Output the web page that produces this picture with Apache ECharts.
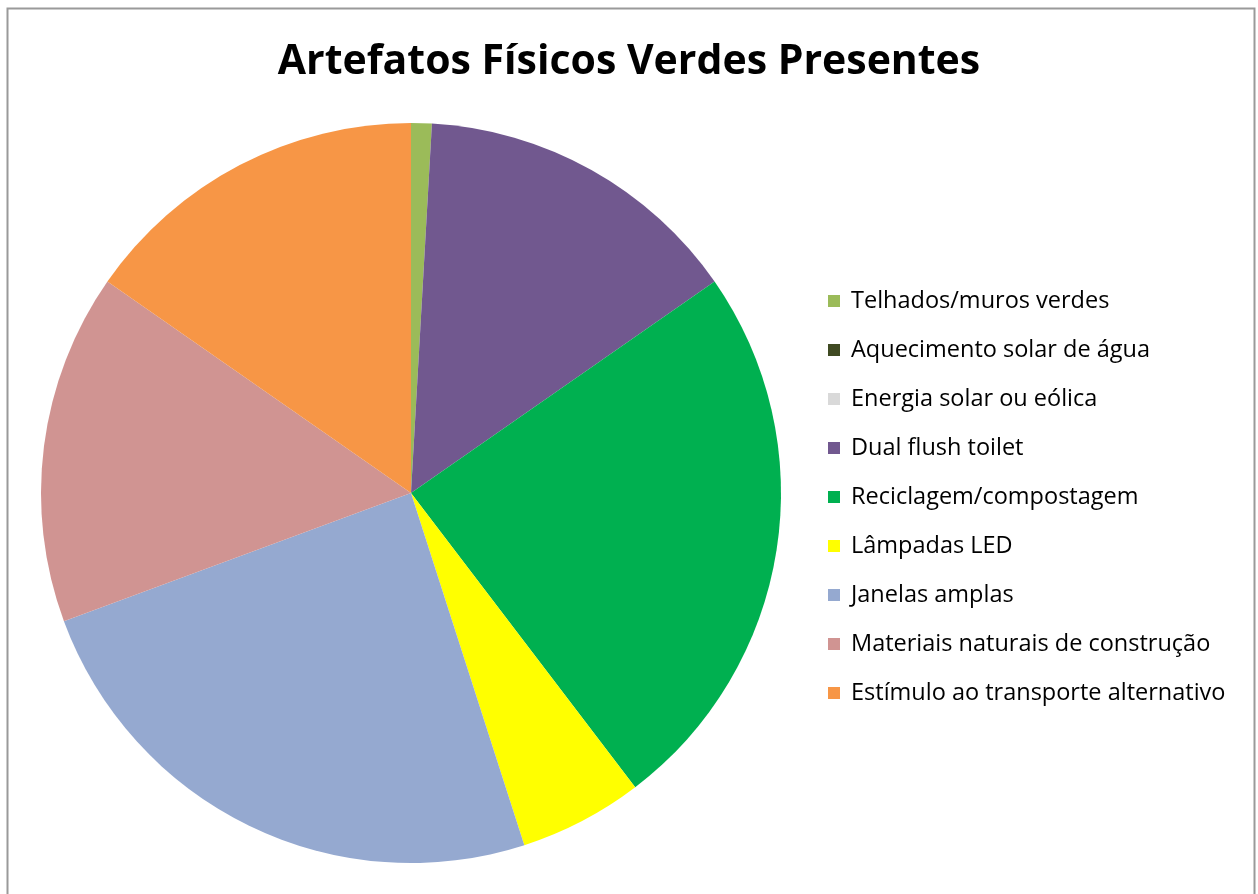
<!DOCTYPE html>
<html>
<head>
<meta charset="utf-8">
<script src="https://cdn.jsdelivr.net/npm/echarts@6/dist/echarts.min.js"></script>
<style>
html,body{margin:0;padding:0;background:#fff;}
#chart{width:1258px;height:894px;}
</style>
</head>
<body>
<div id="chart"></div>
<script>
const categories = [
  'Telhados/muros verdes',
  'Aquecimento solar de água',
  'Energia solar ou eólica',
  'Dual flush toilet',
  'Reciclagem/compostagem',
  'Lâmpadas LED',
  'Janelas amplas',
  'Materiais naturais de construção',
  'Estímulo ao transporte alternativo'
];
const values = [1, 0, 0, 16, 27, 6, 27, 17, 17];
const colors = ['#9BBB59', '#3F4A22', '#D9D9D9', '#71588F', '#00B050', '#FFFF00', '#95A9D0', '#D09492', '#F79646'];
const titleText = 'Artefatos Físicos Verdes Presentes';

const chart = echarts.init(document.getElementById('chart'));
chart.setOption({
  animation: false,
  backgroundColor: '#fff',
  title: {
    text: titleText,
    left: 'center',
    top: 37,
    textStyle: { fontFamily: 'Open Sans', fontWeight: 'bold', fontSize: 41, color: '#000' }
  },
  graphic: [{
    type: 'rect',
    shape: { x: 7.5, y: 8.5, width: 1247, height: 900 },
    style: { fill: 'none', stroke: '#9a9a9a', lineWidth: 2 },
    z: 100
  }],
  legend: {
    orient: 'vertical',
    left: 828,
    top: 289,
    padding: 0,
    itemWidth: 12,
    itemHeight: 12,
    itemGap: 25,
    icon: 'rect',
    textStyle: { fontFamily: 'Open Sans', fontSize: 23.5, lineHeight: 24, color: '#000', padding: [0, 0, 0, 6] },
    data: categories
  },
  series: [{
    type: 'pie',
    center: [411, 493],
    radius: [0, 370],
    startAngle: 90,
    clockwise: true,
    minAngle: 0,
    label: { show: false },
    labelLine: { show: false },
    emphasis: { disabled: true },
    itemStyle: { borderWidth: 0 },
    data: categories.map((c, i) => ({ name: c, value: values[i], itemStyle: { color: colors[i] } }))
  }]
});
</script>
</body>
</html>
